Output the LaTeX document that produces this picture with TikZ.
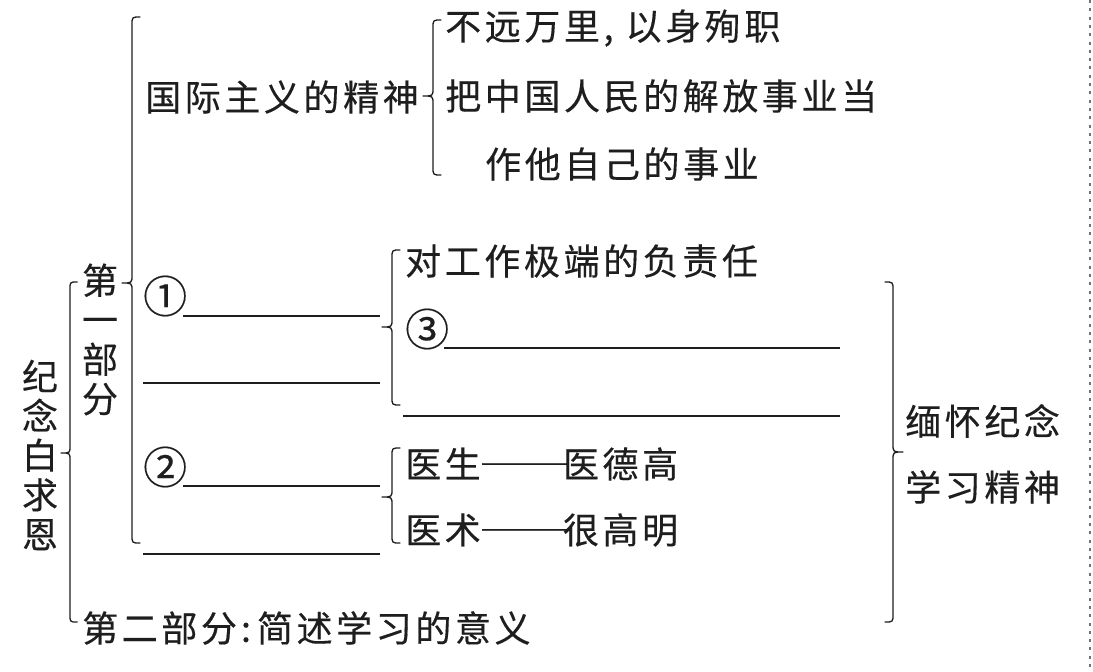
\documentclass[tikz,border=0pt]{standalone}
\usepackage{graphicx}
\usepackage{fontspec}
\newfontfamily\cjk[LetterSpace=10,FakeBold=0.35]{Noto Sans CJK SC}
\newfontfamily\cjkv[FakeBold=0.35]{Noto Sans CJK SC}
\definecolor{ink}{HTML}{1E1E1E}
\newcommand\fwdash{\kern-2pt\scalebox{1.28}[1]{\addfontfeatures{LetterSpace=0,CharacterWidth=Full}——}\kern-8pt}
\newcommand\circnum[1]{\raisebox{-0.06em}{\scalebox{1.22}{#1}}}
\tikzset{
  txt/.style={inner sep=0pt, anchor=west, font=\cjk\fontsize{36}{39.5}\selectfont, text=ink},
  vtxt/.style={inner sep=0pt, align=center, font=\cjkv\fontsize{36}{39.5}\selectfont, text=ink},
  uline/.style={line width=1.3pt, draw=ink},
  brc/.style={line width=1.3pt, draw=ink, line cap=round, line join=round},
  sepline/.style={line width=1.6pt, draw=black!55, dash pattern=on 3pt off 5.3pt}
}
% left brace: #1 line x, #2 top, #3 bottom, #4 tip y, #5 depth
\newcommand\mybraceL[5]{%
  \draw[brc] (#1+#5*0.8,#2) .. controls (#1,#2) .. (#1,#2+#5*0.8)
    -- (#1,#4-#5*0.8) .. controls (#1,#4) .. (#1-#5,#4)
    .. controls (#1,#4) .. (#1,#4+#5*0.8)
    -- (#1,#3-#5*0.8) .. controls (#1,#3) .. (#1+#5*0.8,#3);}
\newcommand\mybraceR[5]{%
  \draw[brc] (#1-#5*0.8,#2) .. controls (#1,#2) .. (#1,#2+#5*0.8)
    -- (#1,#4-#5*0.8) .. controls (#1,#4) .. (#1+#5,#4)
    .. controls (#1,#4) .. (#1,#4+#5*0.8)
    -- (#1,#3-#5*0.8) .. controls (#1,#3) .. (#1-#5*0.8,#3);}
\begin{document}
\begin{tikzpicture}[x=1pt,y=-1pt]
\useasboundingbox (0,0) rectangle (1093,672);
\fill[white] (0,0) rectangle (1093,672);

% dotted separator on the right
\draw[sepline] (1090,0) -- (1090,672);

% vertical titles
\node[vtxt] (root) at (40,455) {纪\\念\\白\\求\\恩};
\node[vtxt] (part1) at (100,339.5) {第\\一\\部\\分};

% top group
\node[txt] (gj) at (145,97) {国际主义的精神};
\node[txt] (a1) at (445,28) {不远万里,\kern12pt 以身殉职};
\node[txt] (a2) at (445,96) {把中国人民的解放事业当};
\node[txt] (a3) at (485,164) {作他自己的事业};

% blank 1
\node[txt] (c1) at (143,296) {\circnum{①}};
\draw[uline] (183,316) -- (380,316);
\draw[uline] (143,383) -- (380,383);
\node[txt] (b1) at (405,261) {对工作极端的负责任};
\node[txt] (c3) at (405,329) {\circnum{③}};
\draw[uline] (444,348) -- (840,348);
\draw[uline] (403,416) -- (840,416);

% blank 2
\node[txt] (c2) at (143,467) {\circnum{②}};
\draw[uline] (183,486) -- (380,486);
\draw[uline] (143,554) -- (380,554);
\node[txt] (d1) at (405,464) {医生\fwdash 医德高};
\node[txt] (d2) at (405,530) {医术\fwdash 很高明};

% part two
\node[txt] (part2) at (82,628) {第二部分\kern4pt:\kern6pt 简述学习的意义};

% right conclusion
\node[txt] (r1) at (905,421) {缅怀纪念};
\node[txt] (r2) at (905,487) {学习精神};

% braces
\mybraceL{70}{282}{622}{453}{9}
\mybraceL{132}{17}{543}{283}{10}
\mybraceL{433}{20}{175}{96}{10}
\mybraceL{392}{250}{405}{327}{10}
\mybraceL{392}{448}{543}{497}{10}
\mybraceR{893}{282}{622}{452}{10}
\end{tikzpicture}
\end{document}
